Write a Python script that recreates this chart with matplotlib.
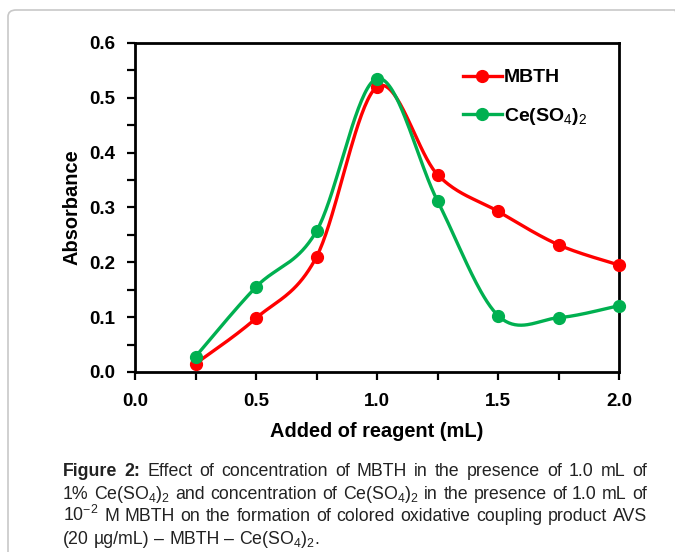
import numpy as np
import matplotlib
matplotlib.use('Agg')
import matplotlib.pyplot as plt
from matplotlib.patches import FancyBboxPatch
from matplotlib.ticker import MultipleLocator

plt.rcParams['font.family'] = ['Liberation Sans', 'DejaVu Sans']
plt.rcParams['mathtext.fontset'] = 'custom'
plt.rcParams['mathtext.rm'] = 'Liberation Sans'
plt.rcParams['mathtext.bf'] = 'Liberation Sans:bold'
plt.rcParams['mathtext.it'] = 'Liberation Sans:italic'

# data
reagent_ml = [0.25, 0.5, 0.75, 1.0, 1.25, 1.5, 1.75, 2.0]
mbth_abs = [0.015, 0.098, 0.21, 0.52, 0.36, 0.293, 0.232, 0.195]
ce_abs = [0.028, 0.155, 0.257, 0.535, 0.312, 0.103, 0.099, 0.121]

RED = '#FF0000'
GREEN = '#00B050'


def excel_smooth(x, y, n=40):
    # Catmull-Rom style bezier like Excel's smoothed line
    x = np.asarray(x, float)
    y = np.asarray(y, float)
    px = np.concatenate([[x[0]], x, [x[-1]]])
    py = np.concatenate([[y[0]], y, [y[-1]]])
    xs, ys = [], []
    t = np.linspace(0, 1, n)
    for i in range(1, len(px) - 2):
        p0 = np.array([px[i], py[i]])
        p3 = np.array([px[i + 1], py[i + 1]])
        p1 = p0 + (np.array([px[i + 1], py[i + 1]]) - np.array([px[i - 1], py[i - 1]])) / 6
        p2 = p3 - (np.array([px[i + 2], py[i + 2]]) - np.array([px[i], py[i]])) / 6
        b = ((1 - t) ** 3)[:, None] * p0 + (3 * (1 - t) ** 2 * t)[:, None] * p1 \
            + (3 * (1 - t) * t ** 2)[:, None] * p2 + (t ** 3)[:, None] * p3
        xs.append(b[:, 0])
        ys.append(b[:, 1])
    return np.concatenate(xs), np.concatenate(ys)


fig = plt.figure(figsize=(6.75, 5.52), dpi=100)
border = FancyBboxPatch((8 / 675, -0.05), 1.0, 1.05 - 10 / 552,
                        boxstyle='round,pad=0,rounding_size=0.012',
                        transform=fig.transFigure, fc='none',
                        ec='#c8c8c8', lw=1.2, zorder=-1)
fig.patches.append(border)

ax = fig.add_axes([135 / 675, 1 - 372 / 552, (619 - 135) / 675, (372 - 43) / 552])
ax.patch.set_alpha(0)

for yv, col, lab in [(mbth_abs, RED, 'MBTH'), (ce_abs, GREEN, r'Ce(SO$_4$)$_2$')]:
    sx, sy = excel_smooth(reagent_ml, yv)
    ax.plot(sx, sy, color=col, lw=2.4, zorder=2, clip_on=False)
    ax.plot(reagent_ml, yv, 'o', color=col, ms=8.5, zorder=3, clip_on=False)
    ax.plot([], [], '-o', color=col, lw=2.4, ms=8.5, label=lab)

ax.set_xlim(0, 2.0)
ax.set_ylim(0, 0.6)
ax.xaxis.set_major_locator(MultipleLocator(0.5))
ax.xaxis.set_minor_locator(MultipleLocator(0.25))
ax.yaxis.set_major_locator(MultipleLocator(0.1))
ax.yaxis.set_minor_locator(MultipleLocator(0.05))
ax.tick_params(which='both', direction='out', width=1.6, labelsize=13.5)
ax.tick_params(which='major', length=6)
ax.tick_params(which='minor', length=6)
ax.tick_params(axis='x', pad=9)
ax.tick_params(axis='y', pad=8)
ax.xaxis.set_major_formatter(plt.FormatStrFormatter('%.1f'))
ax.yaxis.set_major_formatter(plt.FormatStrFormatter('%.1f'))
for lbl in ax.get_xticklabels() + ax.get_yticklabels():
    lbl.set_fontweight('bold')
for sp in ax.spines.values():
    sp.set_linewidth(2.0)

ax.set_xlabel('Added of reagent (mL)', fontsize=14.4, fontweight='bold', labelpad=9)
ax.set_ylabel('Absorbance', fontsize=14.4, fontweight='bold', labelpad=6)

leg = ax.legend(loc='upper right', bbox_to_anchor=(0.97, 0.975), frameon=False,
                handlelength=2.0, handletextpad=0.1, labelspacing=1.0,
                prop={'weight': 'bold', 'size': 14})

# caption, justified word by word (first two words bold)
caption = [
    'Figure 2: Effect of concentration of MBTH in the presence of 1.0 mL of',
    r'1% Ce(SO$_4$)$_2$ and concentration of Ce(SO$_4$)$_2$ in the presence of 1.0 mL of',
    r'10$^{-2}$ M MBTH on the formation of colored oxidative coupling product AVS',
    r'(20 µg/mL) – MBTH – Ce(SO$_4$)$_2$.',
]
cap_left, cap_right = 63, 647
cap_size = 12.8
renderer = fig.canvas.get_renderer()
sp_a = fig.text(0, 0, 'a b', fontsize=cap_size)
sp_b = fig.text(0, 0, 'ab', fontsize=cap_size)
space = sp_a.get_window_extent(renderer).width - sp_b.get_window_extent(renderer).width
sp_a.remove()
sp_b.remove()
for i, line in enumerate(caption):
    words = line.split(' ')
    y = 1 - (471 + i * 22.6) / 552
    arts = []
    for j, w in enumerate(words):
        bold = (i == 0 and j < 2)
        t = fig.text(0, y, w, fontsize=cap_size, va='baseline', ha='left',
                     color='#222222', fontweight='bold' if bold else 'normal')
        arts.append(t)
    widths = [a.get_window_extent(renderer).width for a in arts]
    if i < len(caption) - 1:
        gap = (cap_right - cap_left - sum(widths)) / (len(words) - 1)
    else:
        gap = space
    xpos = cap_left
    for a, wd in zip(arts, widths):
        a.set_x(xpos / 675)
        a.set_y(1 - (476 + i * 22.6) / 552)
        xpos += wd + gap

fig.savefig('out.png', dpi=100)
